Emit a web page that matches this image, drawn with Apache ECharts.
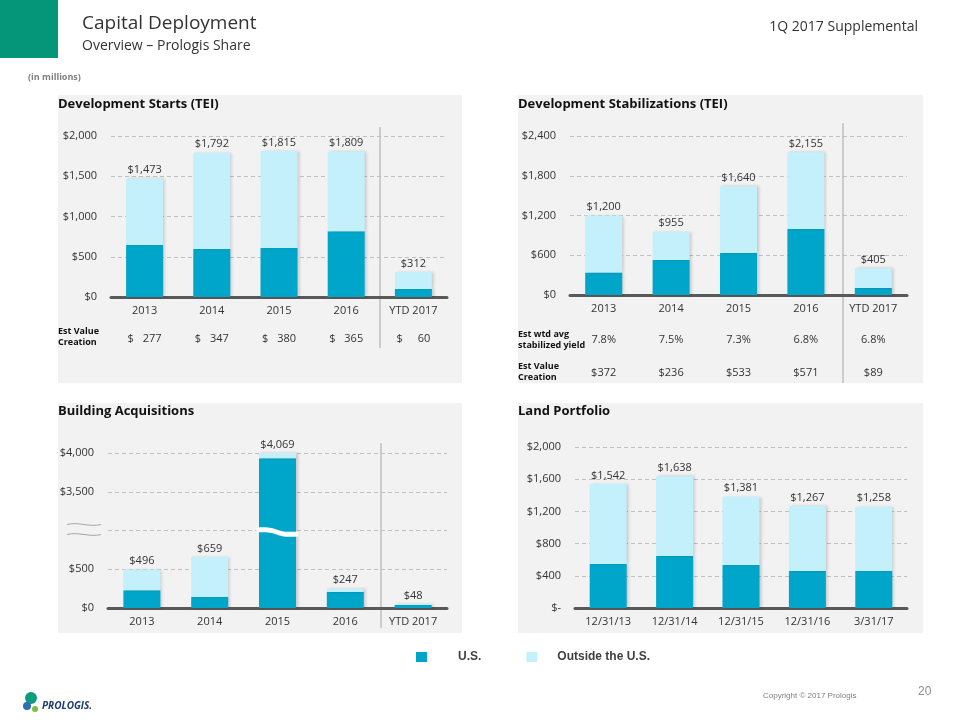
<!DOCTYPE html>
<html><head><meta charset="utf-8">
<script src="https://cdn.jsdelivr.net/npm/echarts@6/dist/echarts.min.js"></script>
<style>html,body{margin:0;padding:0;background:#fff}#c{width:960px;height:720px}</style>
</head><body><div id="c"></div>
<script>
// ---------- data ----------
const years = ['2013', '2014', '2015', '2016', 'YTD 2017'];
const startsTotal = [1473, 1792, 1815, 1809, 312];
const startsUS = [645, 595, 608, 818, 100];
const startsValueCreation = [277, 347, 380, 365, 60];

const stabTotal = [1200, 955, 1640, 2155, 405];
const stabUS = [338, 528, 634, 997, 106];
const stabYield = ['7.8%', '7.5%', '7.3%', '6.8%', '6.8%'];
const stabValueCreation = [372, 236, 533, 571, 89];

const acqTotal = [496, 659, 4069, 247, 48];
const acqUS = [230, 141, 3933, 205, 38];
const acqBreak = [1000, 3000]; // axis break: values between are cut out

const landDates = ['12/31/13', '12/31/14', '12/31/15', '12/31/16', '3/31/17'];
const landTotal = [1542, 1638, 1381, 1267, 1258];
const landUS = [548, 646, 534, 460, 460];

const legendNames = ['U.S.', 'Outside the U.S.'];

// ---------- style ----------
const FONT = '"Open Sans", "Noto Sans", sans-serif';
const NARROW = '"Liberation Sans", Arial, sans-serif';
const DARK = '#00A6C9';
const LIGHT = '#C3F0FB';
const PANEL = '#F2F2F2';
const TXT = '#333333';

const fmt = v => '$' + Number(v).toLocaleString('en-US');
const brk = v => v <= acqBreak[0] ? v : v - (acqBreak[1] - acqBreak[0]);
const unbrk = v => v <= acqBreak[0] ? v : v + (acqBreak[1] - acqBreak[0]);

const chart = echarts.init(document.getElementById('c'), null, { renderer: 'canvas' });

const grids = [
  { left: 111, top: 136, width: 336, height: 161 },
  { left: 570, top: 136, width: 337, height: 159 },
  { left: 108, top: 453, width: 339, height: 155 },
  { left: 575, top: 447, width: 332, height: 161 }
];

function mainX(gridIndex, data) {
  return {
    type: 'category', gridIndex, data,
    axisLine: { lineStyle: { color: '#595959', width: 3 } },
    axisTick: { show: false },
    axisLabel: { color: TXT, fontFamily: FONT, fontSize: 11, margin: 8, interval: 0 }
  };
}
function rowX(gridIndex, offset, formatter) {
  return {
    type: 'category', gridIndex, data: years, position: 'bottom', offset,
    axisLine: { show: false }, axisTick: { show: false }, splitLine: { show: false },
    axisLabel: {
      color: TXT, fontFamily: FONT, fontSize: 11, margin: 8, interval: 0, formatter,
      rich: {
        a: { width: 12, align: 'left', fontFamily: FONT, fontSize: 11, color: TXT },
        b: { width: 22, align: 'right', fontFamily: FONT, fontSize: 11, color: TXT }
      }
    }
  };
}
function valY(gridIndex, max, interval, formatter) {
  return {
    type: 'value', gridIndex, min: 0, max, interval,
    axisLine: { show: false }, axisTick: { show: false },
    splitLine: { lineStyle: { color: '#BFBFBF', type: [4, 3], width: 1 } },
    axisLabel: { color: TXT, fontFamily: FONT, fontSize: 11, margin: 14, formatter }
  };
}

const barCommon = { barWidth: 37, barGap: '-100%' };
function barPair(idx, usArr, totalArr, transform) {
  const t = transform || (v => v);
  const us = usArr.map(v => t(v));
  const out = totalArr.map((v, i) => t(v) - t(usArr[i]));
  return [
    Object.assign({
      type: 'bar', name: legendNames[0], xAxisIndex: idx, yAxisIndex: idx, stack: 'st' + idx,
      data: us,
      itemStyle: { color: DARK, shadowColor: 'rgba(0,0,0,0.18)', shadowBlur: 3, shadowOffsetX: 2 }
    }, barCommon),
    Object.assign({
      type: 'bar', name: legendNames[1], xAxisIndex: idx, yAxisIndex: idx, stack: 'st' + idx,
      data: out,
      itemStyle: { color: LIGHT, shadowColor: 'rgba(0,0,0,0.18)', shadowBlur: 3, shadowOffsetX: 2 },
      label: {
        show: true, position: 'top', distance: 3, color: TXT, fontFamily: FONT, fontSize: 11,
        formatter: p => fmt(totalArr[p.dataIndex])
      }
    }, barCommon)
  ];
}

function wave(x0, x1, y, amp) {
  const w = x1 - x0;
  return `M${x0} ${y} C${x0 + w * 0.35} ${y - amp} ${x0 + w * 0.65} ${y + amp} ${x1} ${y}`;
}

const breakSeries = {
  type: 'custom', xAxisIndex: 2, yAxisIndex: 2, silent: true, z: 10,
  data: [[2, brk(acqBreak[0])]],
  renderItem: function (params, api) {
    const cs = params.coordSys;
    const p = api.coord([api.value(0), api.value(1)]);
    const x0 = p[0] - 21, x1 = p[0] + 21, y = p[1];
    const band = `M${x0} ${y - 3} C${x0 + 24} ${y - 5} ${x0 + 16} ${y + 3} ${x1} ${y + 1}` +
      ` L${x1} ${y + 6} C${x0 + 16} ${y + 8} ${x0 + 24} ${y} ${x0} ${y + 2} Z`;
    const ax0 = cs.x - 41, ax1 = cs.x - 7;
    return {
      type: 'group',
      children: [
        { type: 'path', shape: { pathData: band }, style: { fill: '#FFFFFF', stroke: null } },
        { type: 'path', shape: { pathData: wave(ax0, ax1, y - 6, 3) }, style: { fill: null, stroke: '#A6A6A6', lineWidth: 1 } },
        { type: 'path', shape: { pathData: wave(ax0, ax1, y + 4, 3) }, style: { fill: null, stroke: '#A6A6A6', lineWidth: 1 } }
      ]
    };
  }
};

function txt(x, y, text, style) {
  return { type: 'text', x, y, silent: true, style: Object.assign({ text, fontFamily: FONT, fill: TXT, verticalAlign: 'middle' }, style) };
}
function vline(x, y1, y2) {
  return { type: 'line', silent: true, shape: { x1: x, y1, x2: x, y2 }, style: { stroke: '#A6A6A6', lineWidth: 1 } };
}

const graphics = [
  // panels
  { type: 'rect', z: -10, silent: true, shape: { x: 58, y: 95, width: 404, height: 288 }, style: { fill: PANEL } },
  { type: 'rect', z: -10, silent: true, shape: { x: 518, y: 95, width: 405, height: 288 }, style: { fill: PANEL } },
  { type: 'rect', z: -10, silent: true, shape: { x: 58, y: 403, width: 404, height: 230 }, style: { fill: PANEL } },
  { type: 'rect', z: -10, silent: true, shape: { x: 518, y: 403, width: 405, height: 230 }, style: { fill: PANEL } },
  // header
  { type: 'rect', silent: true, shape: { x: 0, y: 0, width: 58, height: 58 }, style: { fill: '#05967A' } },
  txt(82, 24, 'Capital Deployment', { fontSize: 19, fill: '#333' }),
  txt(82, 46, 'Overview – Prologis Share', { fontSize: 14, fill: '#333' }),
  txt(918, 27, '1Q 2017 Supplemental', { fontSize: 14, fill: '#333', align: 'right' }),
  txt(28, 77, '(in millions)', { fontSize: 9, fontWeight: 'bold', fill: '#7F7F7F' }),
  // panel titles
  txt(58, 104, 'Development Starts (TEI)', { fontSize: 13, fontWeight: 'bold', fill: '#111' }),
  txt(518, 104, 'Development Stabilizations (TEI)', { fontSize: 13, fontWeight: 'bold', fill: '#111' }),
  txt(58, 411, 'Building Acquisitions', { fontSize: 13, fontWeight: 'bold', fill: '#111' }),
  txt(518, 411, 'Land Portfolio', { fontSize: 13, fontWeight: 'bold', fill: '#111' }),
  // row labels
  txt(58, 331, 'Est Value', { fontSize: 9, fontWeight: 'bold', fill: '#111' }),
  txt(58, 342, 'Creation', { fontSize: 9, fontWeight: 'bold', fill: '#111' }),
  txt(518, 334, 'Est wtd avg', { fontSize: 9, fontWeight: 'bold', fill: '#111' }),
  txt(518, 345, 'stabilized yield', { fontSize: 9, fontWeight: 'bold', fill: '#111' }),
  txt(518, 366, 'Est Value', { fontSize: 9, fontWeight: 'bold', fill: '#111' }),
  txt(518, 377, 'Creation', { fontSize: 9, fontWeight: 'bold', fill: '#111' }),
  // separators
  vline(380, 127, 348),
  vline(843, 123, 383),
  vline(381, 443, 628),
  // footer
  { type: 'circle', silent: true, shape: { cx: 31, cy: 698, r: 6 }, style: { fill: '#0D9B7E' } },
  { type: 'circle', silent: true, shape: { cx: 27, cy: 706, r: 4 }, style: { fill: '#2F6DB5' } },
  { type: 'circle', silent: true, shape: { cx: 35, cy: 709, r: 3 }, style: { fill: '#7CBF3A' } },
  txt(42, 706, 'PROLOGIS.', { fontSize: 10, fontWeight: 'bold', fontStyle: 'italic', fill: '#1C3C6E' }),
  txt(763, 696, 'Copyright © 2017 Prologis', { fontSize: 8, fill: '#808080', fontFamily: NARROW }),
  txt(918, 692, '20', { fontSize: 12, fill: '#8C8C8C', fontFamily: NARROW })
];

const option = {
  animation: false,
  backgroundColor: '#FFFFFF',
  textStyle: { fontFamily: FONT },
  grid: grids,
  legend: {
    data: legendNames, left: 411, top: 646, itemWidth: 11, itemHeight: 10, itemGap: 45,
    icon: 'rect', selectedMode: false,
    formatter: name => name === legendNames[0] ? `{u|${name}}` : `{o|${name}}`,
    textStyle: {
      fontFamily: NARROW, fontWeight: 'bold', fontSize: 12, color: '#404040',
      rich: {
        u: { fontFamily: NARROW, fontWeight: 'bold', fontSize: 12, color: '#404040', padding: [0, 0, 0, 26] },
        o: { fontFamily: NARROW, fontWeight: 'bold', fontSize: 12, color: '#404040', padding: [0, 0, 0, 15] }
      }
    }
  },
  xAxis: [
    mainX(0, years), mainX(1, years), mainX(2, years), mainX(3, landDates),
    rowX(0, 28, (v, i) => `{a|$}{b|${startsValueCreation[i]}}`),
    rowX(1, 31, (v, i) => stabYield[i]),
    rowX(1, 64, (v, i) => '$' + stabValueCreation[i])
  ],
  yAxis: [
    valY(0, 2000, 500, fmt),
    valY(1, 2400, 600, fmt),
    valY(2, brk(4000), 500, v => v === brk(acqBreak[0]) ? '' : fmt(unbrk(v))),
    valY(3, 2000, 400, v => v === 0 ? '$-' : fmt(v))
  ],
  series: [].concat(
    barPair(0, startsUS, startsTotal),
    barPair(1, stabUS, stabTotal),
    barPair(2, acqUS, acqTotal, brk),
    barPair(3, landUS, landTotal),
    [breakSeries]
  ),
  graphic: { elements: graphics }
};
chart.setOption(option);
</script>
</body></html>
